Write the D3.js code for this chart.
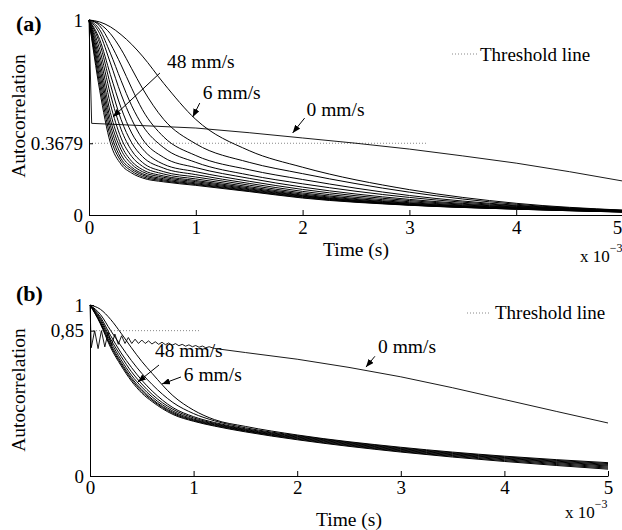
<!DOCTYPE html>
<html>
<head>
<meta charset="utf-8">
<script src="https://cdn.jsdelivr.net/npm/d3@7"></script>
<style>
  body { margin: 0; background: #fff; }
  svg { display: block; font-family: "Liberation Serif", "Times New Roman", serif; }
</style>
</head>
<body>
<svg id="root"></svg>
<script>
// time in units of 10^-3 s

// ---- panel (a) ----
const timeA = [0, 0.1, 0.2, 0.3, 0.4, 0.5, 0.7, 1.0, 1.5, 2, 3, 4, 5];
const speedsA = [48, 45, 42, 39, 36, 33, 30, 27, 24, 21, 18, 15, 12, 9, 6];
const curvesA = [
  [1, 0.64, 0.37, 0.26, 0.215, 0.19, 0.17, 0.152, 0.12, 0.087, 0.05, 0.03, 0.015],
  [1, 0.67, 0.40, 0.275, 0.225, 0.197, 0.175, 0.156, 0.123, 0.09, 0.051, 0.03, 0.015],
  [1, 0.70, 0.43, 0.29, 0.235, 0.205, 0.18, 0.16, 0.126, 0.093, 0.052, 0.031, 0.016],
  [1, 0.73, 0.46, 0.31, 0.245, 0.212, 0.186, 0.165, 0.13, 0.096, 0.053, 0.032, 0.016],
  [1, 0.76, 0.49, 0.335, 0.26, 0.222, 0.193, 0.171, 0.134, 0.099, 0.055, 0.033, 0.017],
  [1, 0.79, 0.525, 0.36, 0.275, 0.233, 0.2, 0.177, 0.139, 0.102, 0.057, 0.034, 0.017],
  [1, 0.82, 0.57, 0.395, 0.30, 0.25, 0.21, 0.185, 0.145, 0.107, 0.06, 0.035, 0.018],
  [1, 0.85, 0.62, 0.44, 0.33, 0.27, 0.222, 0.195, 0.153, 0.113, 0.063, 0.037, 0.018],
  [1, 0.88, 0.67, 0.49, 0.37, 0.30, 0.24, 0.207, 0.162, 0.121, 0.068, 0.039, 0.019],
  [1, 0.90, 0.72, 0.55, 0.42, 0.34, 0.26, 0.222, 0.173, 0.131, 0.074, 0.041, 0.02],
  [1, 0.93, 0.78, 0.62, 0.49, 0.39, 0.295, 0.243, 0.188, 0.143, 0.08, 0.044, 0.021],
  [1, 0.95, 0.83, 0.69, 0.56, 0.46, 0.345, 0.27, 0.205, 0.16, 0.09, 0.047, 0.022],
  [1, 0.97, 0.88, 0.77, 0.65, 0.54, 0.40, 0.305, 0.232, 0.182, 0.10, 0.05, 0.023],
  [1, 0.98, 0.93, 0.85, 0.75, 0.65, 0.49, 0.365, 0.27, 0.212, 0.117, 0.055, 0.024],
  [1, 0.99, 0.965, 0.925, 0.875, 0.815, 0.675, 0.49, 0.33, 0.245, 0.13, 0.06, 0.025]
];
const zeroTimeA = [0, 0.025, 1, 1.5, 2, 2.5, 3, 3.5, 4, 4.5, 5];
const zeroValA = [1, 0.47, 0.446, 0.422, 0.395, 0.368, 0.338, 0.303, 0.266, 0.222, 0.174];
const thresholdA = 0.3679;
const thresholdEndA = 3.17;
const yTicksA = [0, 0.3679, 1];
const yLabelsA = ["0", "0.3679", "1"];

// ---- panel (b) ----
const timeB = [0, 0.1, 0.2, 0.3, 0.4, 0.5, 0.6, 0.8, 1.0, 1.2, 1.5, 2, 3, 4, 5];
const speedsB = [48, 42, 36, 30, 24, 18, 12, 6];
const curvesB = [
  [1, 0.89, 0.75, 0.645, 0.555, 0.485, 0.435, 0.36, 0.32, 0.292, 0.258, 0.212, 0.14, 0.085, 0.04],
  [1, 0.895, 0.76, 0.655, 0.565, 0.495, 0.443, 0.366, 0.324, 0.296, 0.262, 0.216, 0.144, 0.09, 0.046],
  [1, 0.90, 0.77, 0.665, 0.575, 0.505, 0.45, 0.372, 0.328, 0.30, 0.265, 0.22, 0.148, 0.095, 0.052],
  [1, 0.91, 0.785, 0.68, 0.59, 0.52, 0.462, 0.38, 0.333, 0.304, 0.268, 0.224, 0.152, 0.10, 0.058],
  [1, 0.92, 0.80, 0.70, 0.61, 0.538, 0.477, 0.39, 0.34, 0.308, 0.272, 0.228, 0.156, 0.104, 0.063],
  [1, 0.93, 0.82, 0.72, 0.635, 0.56, 0.497, 0.40, 0.347, 0.313, 0.276, 0.232, 0.16, 0.108, 0.068],
  [1, 0.945, 0.85, 0.76, 0.675, 0.60, 0.535, 0.43, 0.365, 0.323, 0.282, 0.236, 0.164, 0.112, 0.073],
  [1, 0.975, 0.915, 0.835, 0.75, 0.67, 0.60, 0.47, 0.385, 0.33, 0.29, 0.24, 0.168, 0.116, 0.078]
];
const zeroTimeB = [0, 0.012, 0.045, 0.078, 0.11, 0.143, 0.175, 0.208, 0.24, 0.273,
  0.305, 0.338, 0.37, 0.403, 0.435, 0.468, 0.5, 0.533, 0.565, 0.598,
  0.63, 0.663, 0.695, 0.728, 0.76, 0.793, 0.825, 0.858, 0.89, 0.923,
  0.955, 0.988, 1.02, 1.053, 1.085, 1.118, 1.15, 1.2, 1.5, 2.0,
  2.5, 3.0, 3.5, 4.0, 4.5, 5.0];
const zeroValB = [1, 0.75, 0.85, 0.745, 0.85, 0.755, 0.84, 0.765, 0.83, 0.77,
  0.82, 0.775, 0.81, 0.775, 0.80, 0.775, 0.795, 0.775, 0.79, 0.772,
  0.785, 0.77, 0.782, 0.768, 0.778, 0.765, 0.774, 0.762, 0.77, 0.759,
  0.767, 0.756, 0.763, 0.753, 0.76, 0.75, 0.756, 0.746, 0.722, 0.683,
  0.635, 0.58, 0.516, 0.447, 0.378, 0.31];
const thresholdB = 0.85;
const thresholdEndB = 1.06;
const yTicksB = [0, 0.85, 1];
const yLabelsB = ["0", "0,85", "1"];

const xTicks = [0, 1, 2, 3, 4, 5];

const draw = () => {
  const width = 622,
    height = 530;

  const svg = d3.select("svg#root").attr("width", width).attr("height", height);

  svg
    .append("defs")
    .append("marker")
    .attr("id", "arrow")
    .attr("viewBox", "0 -4 10 8")
    .attr("refX", 10)
    .attr("refY", 0)
    .attr("markerUnits", "userSpaceOnUse")
    .attr("markerWidth", 8)
    .attr("markerHeight", 6.4)
    .attr("orient", "auto")
    .append("path")
    .attr("d", "M0,-4L10,0L0,4Z")
    .attr("fill", "#000");

  // layout per panel (pixels); annotation anchors in data units
  const panels = [
    {
      tag: "(a)", tagY: 31,
      left: 89, right: 623, top: 20, bottom: 215,
      time: timeA, curves: curvesA,
      zeroT: zeroTimeA, zeroV: zeroValA,
      thr: thresholdA, thrEnd: thresholdEndA,
      yTicks: yTicksA, yLabels: yLabelsA,
      tickPad: 6, yLabelMid: 116, timeY: 256, lastShift: -6,
      exp: { x: 580, y: 262 },
      legend: { x1: 452, x2: 477, y: 54, tx: 480, ty: 61 },
      notes: [
        { label: "48 mm/s", at: [0.73, 0.754], from: [0.664, 0.728], to: [0.224, 0.503] },
        { label: "6 mm/s", at: [1.065, 0.595], from: [1.037, 0.574], to: [0.972, 0.503] },
        { label: "0 mm/s", at: [2.037, 0.508], from: [2.019, 0.497], to: [1.907, 0.421] }
      ]
    },
    {
      tag: "(b)", tagY: 301,
      left: 90, right: 608, top: 305, bottom: 476,
      time: timeB, curves: curvesB,
      zeroT: zeroTimeB, zeroV: zeroValB,
      thr: thresholdB, thrEnd: thresholdEndB,
      yTicks: yTicksB, yLabels: yLabelsB,
      tickPad: 5, yLabelMid: 390, timeY: 526, lastShift: 0,
      exp: { x: 565, y: 518 },
      legend: { x1: 467, x2: 490, y: 313, tx: 495, ty: 319 },
      notes: [
        { label: "48 mm/s", at: [0.627, 0.696], from: [0.666, 0.649], to: [0.463, 0.55] },
        { label: "6 mm/s", at: [0.905, 0.556], from: [0.878, 0.579], to: [0.695, 0.538] },
        { label: "0 mm/s", at: [2.78, 0.719], from: [2.75, 0.70], to: [2.664, 0.637] }
      ]
    }
  ];

  panels.forEach((p) => {
    const x = d3.scaleLinear().domain([0, 5]).range([p.left, p.right]);
    const y = d3.scaleLinear().domain([0, 1]).range([p.bottom, p.top]);
    const g = svg.append("g");

    // threshold
    g.append("line")
      .attr("x1", x(0))
      .attr("x2", x(p.thrEnd))
      .attr("y1", y(p.thr))
      .attr("y2", y(p.thr))
      .attr("stroke", "#888")
      .attr("stroke-width", 1)
      .attr("stroke-dasharray", "1,2");

    const line = d3
      .line()
      .x((d) => x(d[0]))
      .y((d) => y(d[1]))
      .curve(d3.curveMonotoneX);

    g.selectAll("path.curve")
      .data(p.curves)
      .join("path")
      .attr("class", "curve")
      .attr("d", (vals) => line(d3.zip(p.time, vals)))
      .attr("fill", "none")
      .attr("stroke", "#000")
      .attr("stroke-width", 1);

    g.append("path")
      .attr("d", line.curve(d3.curveLinear)(d3.zip(p.zeroT, p.zeroV)))
      .attr("fill", "none")
      .attr("stroke", "#000")
      .attr("stroke-width", 0.9);

    // axes
    const xAxis = g
      .append("g")
      .attr("transform", `translate(0,${p.bottom})`)
      .call(
        d3.axisBottom(x).tickValues(xTicks).tickFormat(d3.format("d"))
          .tickSizeInner(-5).tickSizeOuter(0).tickPadding(p.tickPad)
      );
    xAxis.selectAll(".tick")
      .filter((d) => d === 5)
      .select("text")
      .attr("dx", p.lastShift);
    const yAxis = g
      .append("g")
      .attr("transform", `translate(${p.left},0)`)
      .call(
        d3.axisLeft(y).tickValues(p.yTicks).tickFormat((d, i) => p.yLabels[i])
          .tickSizeInner(-4).tickSizeOuter(0).tickPadding(6)
      );
    [xAxis, yAxis].forEach((a) => {
      a.attr("font-family", null);
      a.selectAll("text")
        .attr("font-family", "Liberation Serif, Times New Roman, serif")
        .attr("font-size", "19px")
        .attr("fill", "#000");
      a.selectAll("path, line").attr("stroke", "#000");
    });

    // titles
    svg.append("text")
      .attr("x", 16)
      .attr("y", p.tagY)
      .attr("font-size", "22px")
      .attr("font-weight", "bold")
      .text(p.tag);

    svg.append("text")
      .attr("transform", `translate(25,${p.yLabelMid}) rotate(-90)`)
      .attr("text-anchor", "middle")
      .attr("font-size", "19.5px")
      .text("Autocorrelation");

    svg.append("text")
      .attr("x", (p.left + p.right) / 2)
      .attr("y", p.timeY)
      .attr("text-anchor", "middle")
      .attr("font-size", "19.5px")
      .text("Time (s)");

    const ex = svg.append("text")
      .attr("x", p.exp.x)
      .attr("y", p.exp.y)
      .attr("font-size", "17px")
      .text("x 10");
    ex.append("tspan")
      .attr("dy", -10)
      .attr("font-size", "12px")
      .text("\u22123");

    // legend
    svg.append("line")
      .attr("x1", p.legend.x1)
      .attr("x2", p.legend.x2)
      .attr("y1", p.legend.y)
      .attr("y2", p.legend.y)
      .attr("stroke", "#888")
      .attr("stroke-dasharray", "1,2");
    svg.append("text")
      .attr("x", p.legend.tx)
      .attr("y", p.legend.ty)
      .attr("font-size", "19px")
      .text("Threshold line");

    // annotations
    p.notes.forEach((n) => {
      g.append("line")
        .attr("x1", x(n.from[0]))
        .attr("y1", y(n.from[1]))
        .attr("x2", x(n.to[0]))
        .attr("y2", y(n.to[1]))
        .attr("stroke", "#000")
        .attr("stroke-width", 1)
        .attr("marker-end", "url(#arrow)");
      g.append("text")
        .attr("x", x(n.at[0]))
        .attr("y", y(n.at[1]))
        .attr("font-size", "19.5px")
        .text(n.label);
    });
  });

  return svg.node();
};

draw();
</script>
</body>
</html>
